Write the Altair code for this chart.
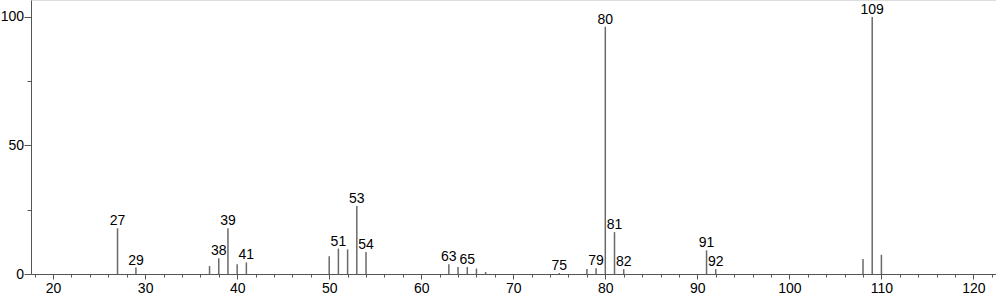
import altair as alt
import pandas as pd

mz = [27, 29, 37, 38, 39, 40, 41, 50, 51, 52, 53, 54, 63, 64, 65, 66, 67,
      75, 78, 79, 80, 81, 82, 91, 92, 108, 109, 110]
intensity = [17.8, 2.5, 3.1, 6.1, 17.8, 3.8, 4.5, 6.9, 9.9, 9.6, 26.5, 8.6,
             3.8, 2.7, 2.7, 2.1, 0.8, 0.4, 1.9, 2.2, 96.2, 16.3, 1.9, 9.2,
             1.9, 5.8, 100.0, 7.5]
labeled = [27, 29, 38, 39, 41, 51, 53, 54, 63, 65, 75, 79, 80, 81, 82, 91, 92, 109]

x_ticks = list(range(18, 123, 2))
y_ticks = [0, 25, 50, 75, 100]

df = pd.DataFrame({"mz": mz, "intensity": intensity})
df["label"] = [str(m) if m in labeled else "" for m in mz]

FONT = "Liberation Sans"
AX = "#555555"

xscale = alt.Scale(domain=[17.6, 122.45], nice=False, zero=False)
yscale = alt.Scale(domain=[0, 106.6], nice=False)

xaxis = alt.Axis(
    values=x_ticks, title=None, grid=False,
    labelExpr="datum.value % 10 === 0 ? datum.label : ''",
    labelOverlap=False, labelFont=FONT, labelFontSize=14, labelColor="#000",
    labelPadding=2, domainColor=AX, tickColor=AX,
    tickSize={"condition": {"test": "datum.value % 10 === 0", "value": 5}, "value": 3},
)
yaxis = alt.Axis(
    values=y_ticks, title=None, grid=False,
    labelExpr="datum.value % 50 === 0 ? datum.label : ''",
    labelOverlap=False, labelFont=FONT, labelFontSize=14, labelColor="#000",
    labelPadding=0.5, domainColor=AX, tickColor=AX,
    tickSize={"condition": {"test": "datum.value % 50 === 0", "value": 7}, "value": 4},
)

base = alt.Chart(df).encode(
    x=alt.X("mz:Q", scale=xscale, axis=xaxis),
    y=alt.Y("intensity:Q", scale=yscale, axis=yaxis),
)

stems = base.mark_rule(color="#6a6a6a", strokeWidth=1.5).encode(y2=alt.datum(0))

texts = base.mark_text(
    font=FONT, fontSize=14, color="#000", baseline="alphabetic", dy=-3
).encode(text="label:N")

chart = (stems + texts).properties(
    width=965, height=274,
    autosize=alt.AutoSizeParams(type="none"),
    padding={"left": 31, "top": 0, "right": 0, "bottom": 25},
).configure_view(stroke=None).configure_axis(labelOverlap=False).configure(background="white")

chart.save("out.html", embed_options={"renderer": "svg", "actions": False})
